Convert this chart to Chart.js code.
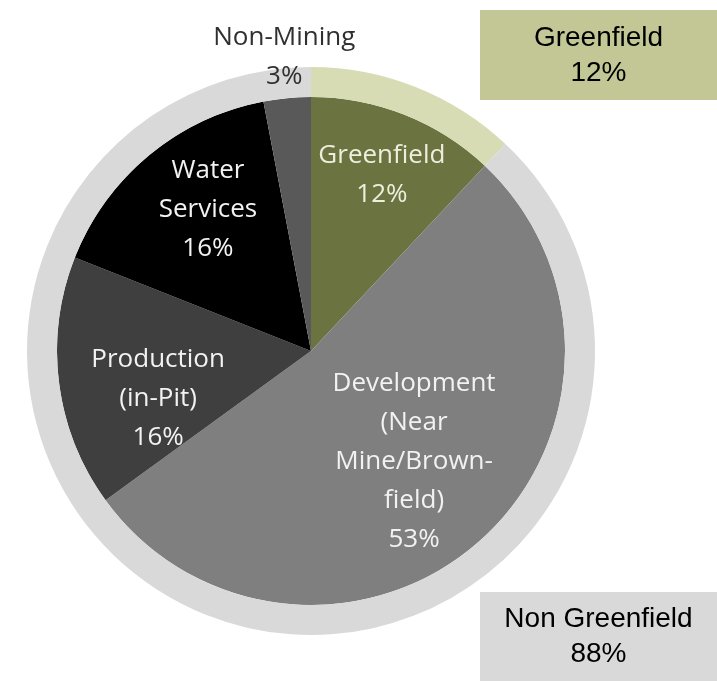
<!DOCTYPE html>
<html>
<head>
<meta charset="utf-8">
<script src="https://cdn.jsdelivr.net/npm/chart.js@4/dist/chart.umd.min.js"></script>
<style>
  html, body { margin: 0; padding: 0; background: #ffffff; }
  #wrap { width: 717px; height: 681px; }
</style>
</head>
<body>
<div id="wrap"><canvas id="spendChart" width="717" height="681"></canvas></div>
<script>
// outer ring: greenfield vs the rest
const ringLabels = ["Greenfield", "Non Greenfield"];
const ringValues = [12, 88];
const ringColors = ["#d7dcb5", "#d9d9d9"];
const boxColors = ["#c3c795", "#d9d9d9"];

// inner pie: split by activity
const sliceLabels = [
    ["Greenfield"],
    ["Development", "(Near", "Mine/Brown-", "field)"],
    ["Production", "(in-Pit)"],
    ["Water", "Services"],
    ["Non-Mining"]
];
const sliceValues = [12, 53, 16, 16, 3];
const sliceColors = ["#6b7340", "#7f7f7f", "#3f3f3f", "#000000", "#595959"];

// where each slice label sits: fraction of the pie radius, angle nudge in degrees
const labelRadius = [0.745, 0.595, 0.63, 0.69, 1.16];
const labelNudge = [0.4, -1.6, -10, 3.6, 0.2];

const sliceFont = "26px 'Open Sans', sans-serif";
const boxFont = "28px 'Liberation Sans', Arial, sans-serif";

const labelPlugin = {
    id: "sliceLabels",
    afterDatasetsDraw(chart) {
        const ctx = chart.ctx;
        const arcs = chart.getDatasetMeta(1).data;
        ctx.save();
        ctx.font = sliceFont;
        ctx.textAlign = "center";
        ctx.textBaseline = "middle";
        arcs.forEach((arc, i) => {
            const lines = sliceLabels[i].concat([sliceValues[i] + "%"]);
            const mid = (arc.startAngle + arc.endAngle) / 2 + labelNudge[i] * Math.PI / 180;
            const r = arc.outerRadius * labelRadius[i];
            const cx = arc.x + Math.cos(mid) * r;
            const cy = arc.y + Math.sin(mid) * r;
            const lh = 39;
            const top = cy - (lines.length - 1) * lh / 2;
            ctx.fillStyle = labelRadius[i] > 1 ? "#303030" : (i === 0 ? "#eeeedc" : "#f2f2f2");
            lines.forEach((t, k) => ctx.fillText(t, cx, top + k * lh));
        });
        ctx.restore();
    },
    afterDraw(chart) {
        // two boxes on the right spell out the outer ring
        const ctx = chart.ctx;
        const boxes = [
            { x: 480, y: 10, w: 237, h: 90 },
            { x: 480, y: 592, w: 237, h: 89 }
        ];
        ctx.save();
        ctx.font = boxFont;
        ctx.textAlign = "center";
        ctx.textBaseline = "middle";
        boxes.forEach((b, i) => {
            ctx.fillStyle = boxColors[i];
            ctx.fillRect(b.x, b.y, b.w, b.h);
            ctx.fillStyle = "#000000";
            const cx = b.x + b.w / 2;
            const cy = b.y + b.h / 2;
            ctx.fillText(ringLabels[i], cx, cy - 17);
            ctx.fillText(ringValues[i] + "%", cx, cy + 18);
        });
        ctx.restore();
    }
};

new Chart(document.getElementById("spendChart"), {
    type: "doughnut",
    data: {
        labels: sliceLabels.map(l => l.join(" ")),
        datasets: [
            {
                label: "Greenfield split",
                data: ringValues,
                backgroundColor: ringColors,
                borderWidth: 0,
                hoverOffset: 0,
                weight: 30
            },
            {
                label: "Activity",
                data: sliceValues,
                backgroundColor: sliceColors,
                borderWidth: 0,
                hoverOffset: 0,
                weight: 254
            }
        ]
    },
    options: {
        responsive: false,
        animation: false,
        devicePixelRatio: 1,
        cutout: 0,
        layout: {
            padding: { left: 27, top: 67, right: 122, bottom: 46 }
        },
        plugins: {
            legend: { display: false },
            tooltip: { enabled: false }
        }
    },
    plugins: [labelPlugin]
});
</script>
</body>
</html>
